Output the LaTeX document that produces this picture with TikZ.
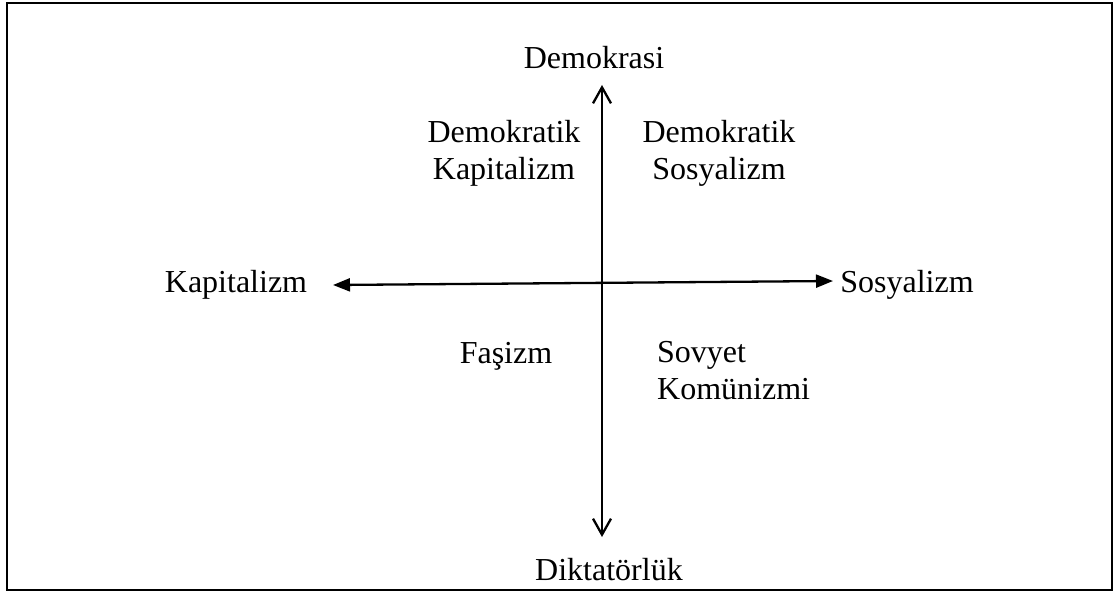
\documentclass[tikz,border=0pt]{standalone}
\usepackage{fontspec}
\setmainfont{Liberation Serif}
\usetikzlibrary{arrows.meta}

\begin{document}
\begin{tikzpicture}[
    x=1pt, y=-1pt,
    axislabel/.style={font=\fontsize{32}{37}\selectfont, inner sep=0pt, anchor=base},
    quadrant/.style={font=\fontsize{32}{37}\selectfont, inner sep=0pt, anchor=north, align=center},
    vaxis/.style={{Straight Barb[length=16pt,width=18pt]}-{Straight Barb[length=16pt,width=18pt]}, line width=2.3pt},
    haxis/.style={{Triangle[length=17pt,width=13pt]}-{Triangle[length=17pt,width=13pt]}, line width=2.3pt}
]
    % Frame
    \useasboundingbox (0,0) rectangle (1119,596);
    \draw[line width=2.3pt] (7,3) rectangle (1112,590);

    % Axis labels
    \node[axislabel] (dem) at (594,69) {Demokrasi};
    \node[axislabel] (dikt) at (609,580) {Diktatörlük};
    \node[axislabel] (kap) at (236,292) {Kapitalizm};
    \node[axislabel] (sos) at (907,292) {Sosyalizm};

    % Axis ends
    \coordinate (top) at (602,85);
    \coordinate (bottom) at (602,537);
    \coordinate (left) at (333,285);
    \coordinate (right) at (833,281);

    % Axes
    \draw[vaxis] (top) -- (bottom);
    \draw[haxis] (left) -- (right);

    % Quadrants
    \node[quadrant] (demkap) at (504,120) {Demokratik\\Kapitalizm};
    \node[quadrant] (demsos) at (719,120) {Demokratik\\Sosyalizm};
    \node[axislabel] (fas) at (506,363) {Faşizm};
    \node[quadrant, anchor=north west, align=left] (sovyet) at (657,341) {Sovyet\\Komünizmi};

\end{tikzpicture}
\end{document}
